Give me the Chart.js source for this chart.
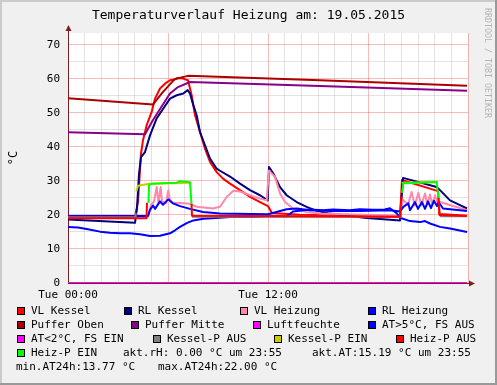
<!DOCTYPE html>
<html>
<head>
<meta charset="utf-8">
<title>Temperaturverlauf Heizung</title>
<script src="https://cdn.jsdelivr.net/npm/chart.js@4/dist/chart.umd.min.js"></script>
<style>
  body { margin: 0; background: #f0f0f0; }
  canvas { display: block; }
</style>
</head>
<body>
<canvas id="rrd" width="497" height="385"></canvas>

<script>
// Zeit in Stunden ab Tue 00:00, Werte in °C
var vlKesselT = [0, 4.02, 4.2, 4.38, 4.5, 4.72, 5.02, 5.22, 5.52, 5.82, 6.12, 6.42, 6.6, 6.9, 7.2, 7.42, 7.62, 7.92, 8.22, 8.52, 8.92, 9.3, 9.72, 10.32, 10.92, 11.52, 12.0, 12.24, 13.92, 19.92, 20.04, 22.2, 22.29, 23.94];
var vlKesselV = [19.2, 19.2, 24.0, 38.0, 42.0, 46.4, 50.3, 54.2, 57.2, 58.6, 59.6, 59.9, 60.3, 60.1, 59.6, 55.2, 49.3, 44.4, 39.5, 35.6, 32.6, 30.7, 29.2, 27.3, 25.3, 23.8, 22.6, 20.6, 20.1, 19.5, 30.3, 27.0, 20.3, 19.8];

var rlKesselT = [0, 4.02, 4.14, 4.26, 4.38, 4.62, 4.92, 5.32, 5.72, 6.12, 6.52, 6.92, 7.18, 7.32, 7.52, 7.72, 7.92, 8.22, 8.52, 8.92, 9.12, 9.72, 10.32, 10.92, 11.52, 11.98, 12.06, 12.32, 12.72, 13.12, 13.72, 14.32, 14.92, 15.72, 17.92, 19.92, 20.1, 22.12, 22.32, 22.92, 23.52, 23.94];
var rlKesselV = [18.7, 17.7, 22.0, 32.0, 37.0, 38.5, 43.4, 48.4, 51.3, 54.2, 55.2, 55.7, 56.7, 55.7, 52.3, 49.3, 44.4, 40.5, 36.6, 33.6, 33.0, 31.3, 29.2, 27.3, 25.8, 24.3, 34.1, 32.2, 28.2, 25.8, 23.8, 22.4, 21.2, 20.4, 19.1, 18.4, 30.9, 28.2, 27.3, 24.3, 22.9, 21.9];

var vlHeizT = [0, 4.8, 4.98, 5.16, 5.32, 5.43, 5.56, 5.64, 5.88, 6.02, 6.12, 6.3, 6.72, 7.32, 7.72, 8.7, 9.12, 9.52, 9.92, 10.32, 10.92, 11.52, 11.92, 12.06, 12.42, 12.72, 13.02, 13.5, 14.32, 15.12, 19.92, 20.1, 20.4, 20.62, 20.8, 21.02, 21.2, 21.42, 21.56, 21.72, 21.86, 22.02, 22.2, 22.32, 23.94];
var vlHeizV = [19.3, 19.5, 23.0, 24.0, 28.2, 23.5, 28.2, 24.0, 23.5, 27.3, 24.3, 23.6, 23.5, 23.3, 22.4, 21.9, 22.4, 25.3, 27.1, 26.9, 25.8, 24.8, 24.3, 33.1, 31.2, 26.3, 23.8, 21.9, 20.9, 20.4, 19.8, 24.5, 23.0, 26.8, 22.8, 26.5, 22.8, 26.3, 23.0, 26.0, 23.0, 25.8, 23.5, 23.8, 21.4];

var rlHeizT = [0, 4.8, 4.92, 5.1, 5.22, 5.52, 5.7, 6.02, 6.3, 6.72, 7.32, 8.1, 9.12, 12.0, 13.12, 13.72, 14.52, 15.72, 17.52, 19.32, 19.92, 20.12, 20.42, 20.52, 20.82, 21.0, 21.24, 21.42, 21.6, 21.78, 21.96, 22.14, 22.23, 22.5, 23.94];
var rlHeizV = [19.7, 19.7, 21.5, 22.8, 21.8, 24.0, 23.0, 24.6, 23.4, 22.6, 21.8, 20.9, 20.4, 20.2, 21.7, 21.9, 21.4, 21.2, 21.2, 21.4, 21.0, 22.4, 23.4, 21.4, 23.8, 21.8, 23.8, 21.8, 24.0, 22.0, 24.2, 22.6, 23.8, 21.9, 21.2];

var pufferObenT = [0, 5.1, 5.7, 6.42, 7.2, 15.12, 23.94];
var pufferObenV = [54.3, 52.5, 56.2, 60.0, 60.9, 59.6, 58.0];

var pufferMitteT = [0, 4.62, 5.1, 6.12, 6.6, 7.32, 15.12, 23.94];
var pufferMitteV = [44.3, 43.7, 47.9, 55.7, 57.6, 59.1, 57.9, 56.5];

var luftT = [0, 23.94];
var luftV = [0, 0];

var atT = [0, 0.6, 1.2, 1.92, 2.52, 3.12, 3.72, 4.32, 4.92, 5.52, 6.12, 6.42, 6.72, 7.12, 7.52, 8.12, 9.12, 9.72, 11.1, 12.0, 13.12, 13.5, 14.5, 15.3, 15.9, 16.9, 17.5, 18.3, 19.0, 19.32, 19.72, 19.92, 20.52, 21.12, 21.42, 21.72, 22.32, 22.92, 23.94];
var atV = [16.5, 16.3, 15.8, 15.1, 14.8, 14.6, 14.6, 14.3, 13.8, 13.9, 14.6, 15.5, 16.5, 17.6, 18.4, 18.9, 19.2, 19.4, 19.4, 19.6, 19.6, 21.0, 21.6, 21.4, 21.6, 21.4, 21.7, 21.5, 21.6, 22.0, 20.5, 19.2, 18.2, 17.9, 18.2, 17.5, 16.5, 16.0, 15.0];

var atFrostT = [];
var atFrostV = [];

var kpAusT = [0, 4.02, 4.06, 4.1, 7.44, 20.04, 20.1, 22.3, 23.94];
var kpAusV = [19.3, 19.3, 20.6, null, 19.5, 19.5, null, 19.6, 19.6];

var kpEinT = [4.1, 4.2, 4.86, 7.38, 7.44, 20.04, 20.1, 22.2];
var kpEinV = [26.9, 28.6, 29.2, 29.5, null, 29.3, 29.5, 29.6];

var hpAusT = [0, 4.71, 4.74, 4.8, 7.41, 7.44, 19.92, 20.01, 20.1, 22.23, 22.29, 23.94];
var hpAusV = [19.0, 19.0, 23.6, null, 23.3, 19.8, 19.5, 25.5, null, 25.0, 20.0, 19.7];

var hpEinT = [4.83, 4.86, 5.04, 5.7, 6.52, 6.72, 7.32, 7.41, 7.5, 20.04, 20.12, 20.52, 21.42, 22.12, 22.23];
var hpEinV = [23.6, 28.8, 29.2, 29.3, 29.5, 29.9, 29.6, 23.3, null, 26.5, 29.3, 29.4, 29.6, 29.7, 25.0];

var xGridHours = [0,1,2,3,4,5,6,7,8,9,10,11,12,13,14,15,16,17,18,19,20,21,22,23,24];
var xTickHours = [0, 12];
var xTickLabels = ['Tue 00:00', 'Tue 12:00'];
var yGrid = [0,5,10,15,20,25,30,35,40,45,50,55,60,65,70];
var yTickValues = [0,10,20,30,40,50,60,70];
var yTickLabels = ['0','10','20','30','40','50','60','70'];

var infoTexts = ['akt.rH: 0.00 °C um 23:55', 'akt.AT:15.19 °C um 23:55', 'min.AT24h:13.77 °C', 'max.AT24h:22.00 °C'];

var series = [
  {label: 'VL Kessel',      color: '#ff0000', t: vlKesselT,    v: vlKesselV},
  {label: 'RL Kessel',      color: '#000080', t: rlKesselT,    v: rlKesselV},
  {label: 'VL Heizung',     color: '#ff88aa', t: vlHeizT,      v: vlHeizV},
  {label: 'RL Heizung',     color: '#0000ff', t: rlHeizT,      v: rlHeizV},
  {label: 'Puffer Oben',    color: '#aa0000', t: pufferObenT,  v: pufferObenV},
  {label: 'Puffer Mitte',   color: '#880088', t: pufferMitteT, v: pufferMitteV},
  {label: 'Luftfeuchte',    color: '#ff00ff', t: luftT,        v: luftV},
  {label: 'AT>5°C, FS AUS', color: '#0000ff', t: atT,          v: atV},
  {label: 'AT<2°C, FS EIN', color: '#ff00ff', t: atFrostT,     v: atFrostV},
  {label: 'Kessel-P AUS',   color: '#808080', t: kpAusT,       v: kpAusV},
  {label: 'Kessel-P EIN',   color: '#cccc00', t: kpEinT,       v: kpEinV},
  {label: 'Heiz-P AUS',     color: '#ff0000', t: hpAusT,       v: hpAusV},
  {label: 'Heiz-P EIN',     color: '#00ff00', t: hpEinT,       v: hpEinV}
];

// Legendenzeilen: Zahl = Serie mit Kästchen, Text = Infozeile
var legendRows = [[0, 1, 2, 3], [4, 5, 6, 7], [8, 9, 10, 11], [12, infoTexts[0], infoTexts[1]], [infoTexts[2], infoTexts[3]]];
var legendX = [[31, 138, 254, 382], [31, 145, 267, 382], [31, 167, 288, 410], [31, 123, 312], [16, 158]];
var legendY = [311, 325, 339, 353, 367];

var FONT = 'DejaVu Sans Mono';
Chart.defaults.font.family = FONT;
Chart.defaults.color = '#000';

function gridColor(v, major, minor) {
  if (v % major === 0) return 'rgba(235,70,70,0.36)';
  if (v % minor === 0) return 'rgba(140,140,140,0.24)';
  return 'rgba(0,0,0,0)';
}

var rrdFrame = {
  id: 'rrdFrame',
  beforeDraw: function(chart) {
    var ctx = chart.ctx, a = chart.chartArea, w = chart.width, h = chart.height;
    ctx.save();
    ctx.fillStyle = '#f0f0f0';
    ctx.fillRect(0, 0, w, h);
    ctx.fillStyle = '#cbcbcb';
    ctx.fillRect(0, 0, w, 2);
    ctx.fillRect(0, 0, 2, h);
    ctx.fillStyle = '#999999';
    ctx.fillRect(0, h - 2, w, 2);
    ctx.fillRect(w - 2, 0, 2, h);
    ctx.fillStyle = '#ffffff';
    ctx.fillRect(a.left, a.top, a.right - a.left, a.bottom - a.top);
    ctx.restore();
  },
  afterDraw: function(chart) {
    var ctx = chart.ctx, a = chart.chartArea;
    ctx.save();

    // Titel
    ctx.fillStyle = '#000';
    ctx.font = '13px "' + FONT + '"';
    ctx.textAlign = 'center';
    ctx.textBaseline = 'middle';
    ctx.fillText('Temperaturverlauf Heizung am: 19.05.2015', chart.width / 2, 16);

    // Einheit an der y-Achse
    ctx.save();
    ctx.translate(14, 158);
    ctx.rotate(-Math.PI / 2);
    ctx.font = '12px "' + FONT + '"';
    ctx.fillText('°C', 0, 0);
    ctx.restore();

    // Wasserzeichen
    ctx.save();
    ctx.translate(487, 8);
    ctx.rotate(Math.PI / 2);
    ctx.font = '8.3px "' + FONT + '"';
    ctx.fillStyle = '#b4b4b4';
    ctx.textAlign = 'left';
    ctx.fillText('RRDTOOL / TOBI OETIKER', 0, 0);
    ctx.restore();

    // Achsen-Pfeile
    ctx.strokeStyle = '#7f1f1f';
    ctx.fillStyle = '#7f1f1f';
    ctx.lineWidth = 1;
    ctx.beginPath();
    ctx.moveTo(a.left + 0.5, a.top);
    ctx.lineTo(a.left + 0.5, a.top - 5);
    ctx.moveTo(a.right, a.bottom + 0.5);
    ctx.lineTo(a.right + 5, a.bottom + 0.5);
    ctx.stroke();
    ctx.beginPath();
    ctx.moveTo(a.left + 0.5, a.top - 8);
    ctx.lineTo(a.left - 2.5, a.top - 2);
    ctx.lineTo(a.left + 3.5, a.top - 2);
    ctx.closePath();
    ctx.fill();
    ctx.beginPath();
    ctx.moveTo(a.right + 7, a.bottom + 0.5);
    ctx.lineTo(a.right + 1, a.bottom - 2.5);
    ctx.lineTo(a.right + 1, a.bottom + 3.5);
    ctx.closePath();
    ctx.fill();

    // Legende
    ctx.font = '11px "' + FONT + '"';
    ctx.textAlign = 'left';
    ctx.textBaseline = 'middle';
    legendRows.forEach(function(row, r) {
      var y = legendY[r];
      row.forEach(function(item, c) {
        var x = legendX[r][c];
        var text = item;
        if (typeof item === 'number') {
          var s = series[item];
          var bx = Math.round(x - 14), by = Math.round(y - 4);
          ctx.fillStyle = s.color;
          ctx.fillRect(bx, by, 8, 8);
          ctx.strokeStyle = '#000';
          ctx.strokeRect(bx + 0.5, by + 0.5, 7, 7);
          text = s.label;
        }
        ctx.fillStyle = '#000';
        ctx.fillText(text, x, y + 0.5);
      });
    });
    ctx.restore();
  }
};

var datasets = series.map(function(s, i) {
  return {
    label: s.label,
    data: s.t.map(function(t, k) { return {x: t, y: s.v[k]}; }),
    borderColor: s.color,
    backgroundColor: s.color,
    borderWidth: 2,
    pointRadius: 0,
    tension: 0,
    spanGaps: false,
    borderJoinStyle: 'round',
    order: -i
  };
});

var chart = new Chart(document.getElementById('rrd').getContext('2d'), {
  type: 'line',
  data: { datasets: datasets },
  plugins: [rrdFrame],
  options: {
    responsive: false,
    animation: false,
    layout: { padding: { left: 0, top: 33, right: 29, bottom: 0 } },
    plugins: {
      legend: { display: false },
      title: { display: false },
      tooltip: { enabled: false }
    },
    scales: {
      x: {
        type: 'linear',
        min: 0,
        max: 24,
        afterBuildTicks: function(s) { s.ticks = xGridHours.map(function(v) { return {value: v}; }); },
        afterFit: function(s) { s.height = 102; },
        ticks: {
          autoSkip: false,
          maxRotation: 0,
          padding: 6,
          font: { size: 11 },
          color: '#000',
          callback: function(v) { var i = xTickHours.indexOf(v); return i < 0 ? '' : xTickLabels[i]; }
        },
        grid: {
          drawTicks: false,
          color: function(c) { return gridColor(c.tick.value, 6, 1); }
        },
        border: { color: '#7f1f1f' }
      },
      y: {
        type: 'linear',
        min: 0,
        max: 73.5,
        afterBuildTicks: function(s) { s.ticks = yGrid.map(function(v) { return {value: v}; }); },
        afterFit: function(s) { s.width = 68; },
        ticks: {
          autoSkip: false,
          padding: 8,
          font: { size: 11 },
          color: '#000',
          callback: function(v) { var i = yTickValues.indexOf(v); return i < 0 ? '' : yTickLabels[i]; }
        },
        grid: {
          drawTicks: false,
          color: function(c) { return gridColor(c.tick.value, 10, 5); }
        },
        border: { color: '#7f1f1f' }
      }
    }
  }
});
</script>
</body>
</html>
